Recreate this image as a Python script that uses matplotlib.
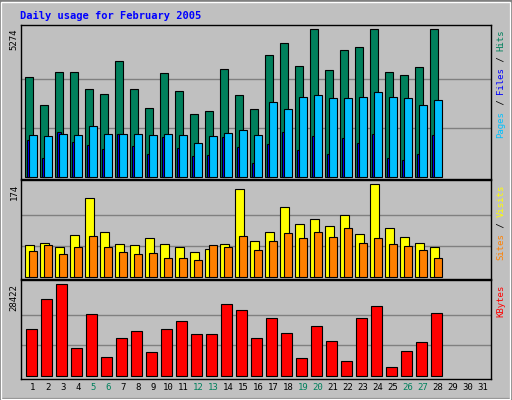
import matplotlib.pyplot as plt
from matplotlib.patches import Rectangle
import numpy as np

days = np.arange(1, 29)
all_days = list(range(1, 32))
weekend = [5, 6, 12, 13, 19, 20, 26, 27]

hits = [3552, 2583, 3731, 3731, 3157, 2978, 4126, 3157, 2476, 3695, 3086, 2260, 2368, 3839,
        2942, 2440, 4341, 4772, 3947, 5274, 3803, 4521, 4628, 5274, 3731, 3624, 3911, 5270]
pages = [1507, 1471, 1543, 1507, 1830, 1543, 1543, 1543, 1507, 1543, 1507, 1220, 1471, 1579,
         1686, 1507, 2691, 2440, 2870, 2942, 2835, 2835, 2870, 3050, 2870, 2835, 2583, 2763]
files = [1304, 658, 1615, 1232, 1124, 981, 1543, 1088, 801, 1411, 1017, 730, 765, 1411,
         1052, 478, 1160, 1591, 945, 1447, 801, 1375, 1196, 1519, 658, 586, 801, 1483]
visits = [59, 63, 55, 78, 149, 85, 61, 59, 72, 61, 55, 46, 53, 61,
          165, 67, 84, 131, 99, 108, 95, 117, 80, 174, 91, 74, 63, 55]
sites = [48, 59, 42, 55, 76, 55, 46, 42, 44, 36, 35, 31, 59, 55,
         76, 51, 68, 82, 72, 84, 74, 91, 63, 72, 61, 57, 51, 36]
kbytes = [14415, 23750, 28422, 8504, 19083, 5704, 11616, 13794, 7260, 14415, 16905, 12860, 12860, 22194,
          20328, 11616, 17838, 13171, 5393, 15350, 10682, 4460, 17838, 21572, 2593, 7571, 10371, 19394]

W, H = 512, 400
BG = '#C0C0C0'
fig = plt.figure(figsize=(W / 100, H / 100), dpi=100, facecolor=BG)

# outer 3D frame
fig.patches.append(Rectangle((0, 0), 1, 1, transform=fig.transFigure, fill=False,
                             edgecolor='#808080', lw=3))
fig.patches.append(Rectangle((1 / W, 1 / H), 1 - 3 / W, 1 - 3 / H, transform=fig.transFigure,
                             fill=False, edgecolor='white', lw=1))

px = 1 / 15.0  # one pixel in day units
x0 = 0.713
x1 = x0 + 470 / 15


def make_ax(top, bottom, ylo, yhi, ymax):
    ax = fig.add_axes([21 / W, 1 - bottom / H, 470 / W, (bottom - top) / H])
    ax.set_facecolor(BG)
    ax.set_xlim(x0, x1)
    ax.set_ylim(ylo, yhi)
    ax.set_xticks([])
    ax.set_yticks([])
    for s in ax.spines.values():
        s.set_color('black')
        s.set_linewidth(1)
    for g in (ymax / 3, 2 * ymax / 3):
        ax.axhline(g, color='#808080', lw=1, zorder=0)
    return ax


bk = dict(edgecolor='black', linewidth=0.8, align='edge')

ax1 = make_ax(24.7, 178.5, -60, 5440, 5274)
ax1.bar(days, hits, width=7.4 * px, color='#00805C', **bk)
ax1.bar(days + 1.7 * px, files, width=4 * px, color='#0000FF', **bk)
ax1.bar(days + 4 * px, pages, width=7.4 * px, color='#00C0FF', **bk)

ax2 = make_ax(180.3, 279.3, -4.9, 181.5, 174)
ax2.bar(days, visits, width=8.4 * px, color='#FFFF00', **bk)
ax2.bar(days + 4 * px, sites, width=7.4 * px, color='#FF8000', **bk)

ax3 = make_ax(280.3, 378.7, -933, 29666, 28422)
ax3.bar(days + 1 * px, kbytes, width=10.4 * px, color='#FF0000', **bk)

mono = 'DejaVu Sans Mono'
fig.text(20 / W, 1 - 16 / H, 'Daily usage for February 2005', color='#0000FF',
         fontsize=7.5, fontweight='bold', family=mono, va='center', ha='left')

# left max labels
for top, lab in [(29, '5274'), (184, '174'), (284, '28422')]:
    fig.text(14 / W, 1 - top / H, lab, rotation=90, fontsize=6.5, family=mono,
             va='top', ha='center', color='black')

# right legends
cw = 5.43


def vlegend(top, parts):
    total = sum(len(t) for t, _ in parts)
    y = top + total * cw  # bottom pixel
    for t, c in parts:
        fig.text(501 / W, 1 - y / H, t, rotation=90, fontsize=6.5, family=mono,
                 va='bottom', ha='center', color=c)
        y -= len(t) * cw


vlegend(29, [('Pages', '#00C0FF'), (' / ', 'black'), ('Files', '#0000FF'),
             (' / ', 'black'), ('Hits', '#00805C')])
vlegend(184, [('Sites', '#FF8000'), (' / ', 'black'), ('Visits', '#FFFF00')])
vlegend(284, [('KBytes', '#FF0000')])

# day labels
for d in all_days:
    xp = 21 + (d + 0.5 - x0) * 15
    fig.text(xp / W, 1 - 388 / H, str(d), fontsize=6.5, family=mono, ha='center', va='center',
             color='#00805C' if d in weekend else 'black')

fig.savefig('out.png', dpi=100, facecolor=BG)
